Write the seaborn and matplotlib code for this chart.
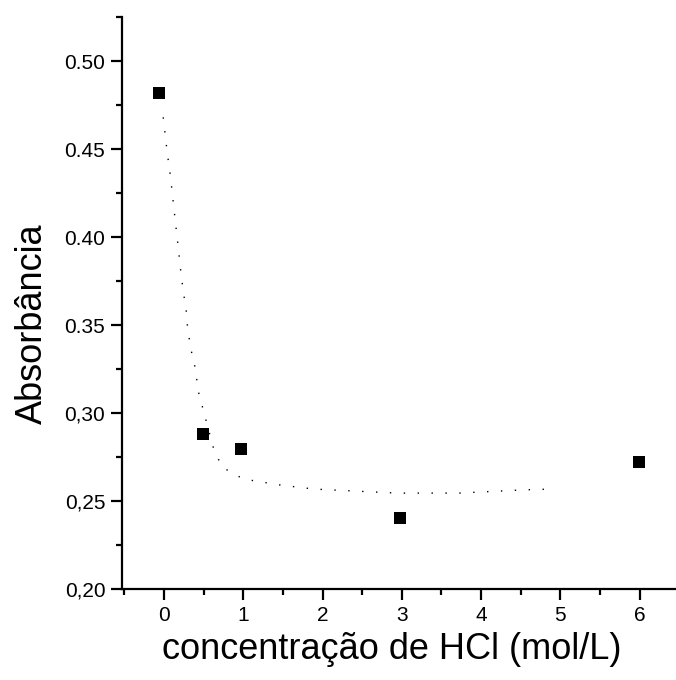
import matplotlib
matplotlib.use("Agg")
import matplotlib.pyplot as plt
import seaborn as sns
import pandas as pd
from matplotlib.ticker import MultipleLocator, FixedLocator

# Data
conc = [-0.06, 0.49, 0.97, 2.98, 5.99]
absorb = [0.482, 0.288, 0.2795, 0.2405, 0.272]

# Fitted (dotted) curve
fit_x = [-0.01, 0.04, 0.08, 0.14, 0.17, 0.21, 0.24, 0.28, 0.30, 0.35, 0.38, 0.44,
         0.62, 0.73, 1.0, 1.48, 1.89, 2.94, 3.72, 4.52, 4.9]
fit_y = [0.468, 0.448, 0.435, 0.410, 0.398, 0.381, 0.370, 0.358, 0.347, 0.334, 0.329, 0.311,
         0.2807, 0.2693, 0.2625, 0.259, 0.2568, 0.2545, 0.2545, 0.2563, 0.2568]

x_ticks = [0, 1, 2, 3, 4, 5, 6]
y_ticks = [0.20, 0.25, 0.30, 0.35, 0.40, 0.45, 0.50]
y_ticklabels = ["0,20", "0,25", "0,30", "0.35", "0.40", "0.45", "0.50"]

xlabel = "concentração de HCl (mol/L)"
ylabel = "Absorbância"

sns.set_style("ticks")
plt.rcParams["font.family"] = ["Liberation Sans", "DejaVu Sans"]

fig = plt.figure(figsize=(6.76, 6.80), dpi=100)
ax = fig.add_axes([0.1805, 0.1338, 1.0 - 0.1805, 0.975 - 0.1338])

df_pts = pd.DataFrame({"x": conc, "y": absorb})
df_fit = pd.DataFrame({"x": fit_x, "y": fit_y})

sns.lineplot(data=df_fit, x="x", y="y", ax=ax, color="black", linewidth=1.0,
             dashes=False, sort=False, estimator=None)
ax.lines[-1].set_dashes((1, 9))
sns.scatterplot(data=df_pts, x="x", y="y", ax=ax, marker="s", s=80, color="black",
                edgecolor="black", linewidth=0, zorder=5)

ax.set_xlim(-0.53, 6.46)
ax.set_ylim(0.20, 0.525)

ax.xaxis.set_major_locator(FixedLocator(x_ticks))
ax.xaxis.set_minor_locator(MultipleLocator(0.5))
ax.set_xticklabels([str(t) for t in x_ticks])
ax.yaxis.set_major_locator(FixedLocator(y_ticks))
ax.yaxis.set_minor_locator(MultipleLocator(0.025))
ax.set_yticklabels(y_ticklabels)

ax.tick_params(which="major", direction="out", length=8, width=1.6, labelsize=15, pad=4,
               color="black", labelcolor="black")
ax.tick_params(which="minor", direction="out", length=4, width=1.6, color="black")

for side in ["top", "right"]:
    ax.spines[side].set_visible(False)
for side in ["left", "bottom"]:
    ax.spines[side].set_linewidth(1.6)
    ax.spines[side].set_color("black")

ax.set_xlabel(xlabel, fontsize=26, color="black")
ax.set_ylabel(ylabel, fontsize=26, color="black")
ax.xaxis.set_label_coords(0.487, -0.076)
ax.yaxis.set_label_coords(-0.13, 0.463)

fig.savefig("out.png", dpi=100, facecolor="white")
